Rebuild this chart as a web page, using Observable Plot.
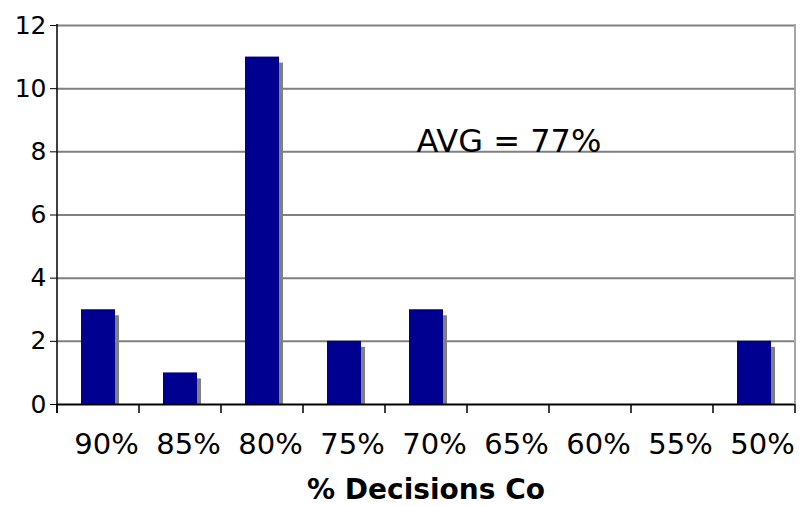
<!DOCTYPE html>
<html>
<head>
<meta charset="utf-8">
<script src="https://cdn.jsdelivr.net/npm/d3@7"></script>
<script src="https://cdn.jsdelivr.net/npm/@observablehq/plot@0.6"></script>
<style>
  html, body { margin: 0; padding: 0; background: #fff; }
  #chart svg { display: block; }
</style>
</head>
<body>
<div id="chart"></div>
<script>
const categories = ["90%", "85%", "80%", "75%", "70%", "65%", "60%", "55%", "50%"];
const counts = [3, 1, 11, 2, 3, 0, 0, 0, 2];
const yTicks = [0, 2, 4, 6, 8, 10, 12];
const xTitle = "% Decisions Co";
const annotation = {label: "AVG = 77%", category: "80%", value: 8};

const data = categories.map((c, i) => ({category: c, count: counts[i]}));
const bars = data.filter(d => d.count > 0);

const chart = Plot.plot({
  width: 801,
  height: 506,
  marginLeft: 56,
  marginRight: 6,
  marginTop: 25,
  marginBottom: 102,
  style: {fontFamily: "DejaVu Sans, Verdana, sans-serif", background: "#fff", overflow: "visible"},
  x: {domain: categories, padding: 0, label: null},
  y: {domain: [0, 12], label: null},
  marks: [
    Plot.gridY(yTicks.filter(t => t > 0), {stroke: "#808080", strokeOpacity: 1, strokeWidth: 2}),
    Plot.rectY(bars, {x: "category", y: "count", fill: "#808080", dx: 4, insetTop: 6, insetLeft: 24, insetRight: 24}),
    Plot.rectY(bars, {x: "category", y: "count", fill: "#000090", insetLeft: 24, insetRight: 24}),
    Plot.ruleY([0], {stroke: "#000", strokeWidth: 2}),
    Plot.axisY({ticks: yTicks, tickSize: 6, tickFormat: d => d, fontSize: 25, fill: "#000", stroke: "#000", tickPadding: 4}),
    Plot.axisX({tickSize: 0, fontSize: 29, fill: "#000", tickPadding: 29, dx: 8, label: null}),
    Plot.text([xTitle], {frameAnchor: "bottom", lineAnchor: "middle", dy: 86, fontSize: 28, fontWeight: "bold", fill: "#000"}),
    Plot.text([annotation], {x: "category", y: "value", text: "label", dx: 154, lineAnchor: "bottom", textAnchor: "start", fontSize: 32, fill: "#000"})
  ]
});

// Axis decorations derived from the Plot scales
const svg = d3.select(chart);
const xs = chart.scale("x");
const ys = chart.scale("y");
const bw = xs.bandwidth;
const x0 = xs.apply(categories[0]);
const xEnd = xs.apply(categories[categories.length - 1]) + bw;
const yTop = ys.apply(12), yBase = ys.apply(0);
const g = svg.append("g");
g.append("line").attr("x1", xEnd).attr("x2", xEnd).attr("y1", yTop - 1).attr("y2", yBase)
  .attr("stroke", "#a6a6a6").attr("stroke-width", 2);
g.append("line").attr("x1", x0).attr("x2", x0).attr("y1", yTop - 1).attr("y2", yBase + 9)
  .attr("stroke", "#000").attr("stroke-width", 1.5);
const bounds = categories.map(c => xs.apply(c)).concat([xEnd]);
g.selectAll("line.tk").data(bounds).join("line").attr("class", "tk")
  .attr("x1", d => d).attr("x2", d => d).attr("y1", yBase).attr("y2", yBase + 9)
  .attr("stroke", "#000").attr("stroke-width", 1.5);
document.getElementById("chart").appendChild(chart);
</script>
</body>
</html>
